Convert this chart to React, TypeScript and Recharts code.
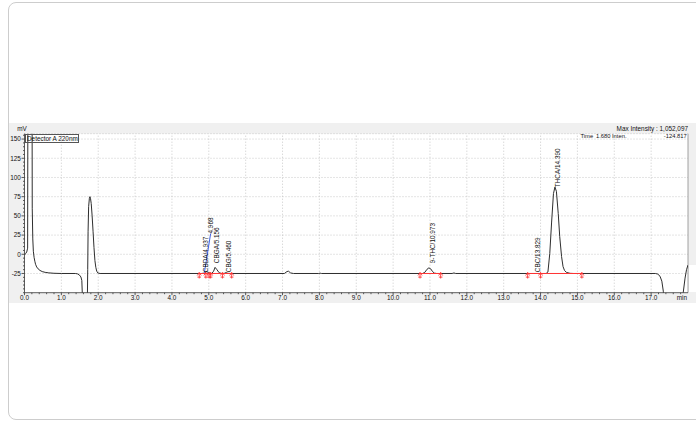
import {
  ComposedChart,
  Line,
  XAxis,
  YAxis,
  CartesianGrid,
  ReferenceLine,
  ReferenceDot,
} from 'recharts'

// chromatogram trace, detector A 220nm (time in min, signal in mV)
const traceTime = [
  0.0, 0.03, 0.06, 0.085, 0.12, 0.18, 0.21, 0.225, 0.24, 0.26, 0.28, 0.3, 0.33, 0.37, 0.42, 0.48,
  0.56, 0.66, 0.8, 1.0, 1.38, 1.44, 1.49, 1.53, 1.555, 1.575, 1.6, 1.68, 1.7, 1.715, 1.725, 1.74,
  1.76, 1.775, 1.79, 1.81, 1.835, 1.86, 1.885, 1.91, 1.935, 1.96, 1.99, 2.05, 4.8, 4.88, 4.94, 5.0,
  5.08, 5.13, 5.17, 5.22, 5.28, 5.35, 5.42, 5.46, 5.52, 5.6, 7.05, 7.12, 7.16, 7.22, 7.3, 7.98,
  8.02, 8.06, 10.8, 10.86, 10.92, 10.97, 11.02, 11.07, 11.12, 11.18, 11.6, 11.65, 11.7, 14.15,
  14.2, 14.25, 14.3, 14.35, 14.39, 14.43, 14.48, 14.52, 14.57, 14.61, 14.65, 14.7, 14.8, 14.9,
  17.12, 17.18, 17.24, 17.29, 17.33, 17.38, 17.5, 17.75, 17.83, 17.87, 17.92, 17.96, 18.0,
]
const traceMv = [
  -1, 1, 3, 8, 1052, 1052, 60, 20, 4, -4, -9, -13, -16.5, -19, -21, -22.5,
  -23.5, -24.2, -24.7, -25, -25, -25.5, -27, -29.5, -34, -60, -110, -124.8, -80, -20, 30, 62,
  73, 75, 73, 66, 50, 30, 9, -8, -17, -22, -24.3, -25, -25, -24.5, -22.5, -24,
  -25, -22, -17, -20, -24, -25, -24.8, -23.8, -24.8, -25, -25, -22.5, -22, -24.3, -25, -25,
  -24.6, -25, -25, -23.5, -19.5, -17.7, -19, -22.5, -24.5, -25, -25, -24.3, -25, -25,
  -23, 1, 42, 79, 87.5, 82, 53, 23, -3, -16, -21, -23.5, -24.8, -25,
  -25, -25.8, -28.5, -35, -48, -90, -124, -124, -90, -50, -31, -20, -14,
]

const peakNames = ['CBDA/4.937', '4.968', 'CBGA/5.156', 'CBG/5.460', '9-THC/10.973', 'CBC/13.829', 'THCA/14.390']
const peakLabelTime = [4.92, 5.05, 5.21, 5.53, 11.08, 13.93, 14.47]
const peakLabelMv = [-23.3, 27.1, -11.6, -23.3, -11.6, -23.3, 87.4]

// integration start / end marks and baselines
const markTime = [4.74, 4.92, 5.01, 5.05, 5.37, 5.62, 10.73, 11.29, 13.65, 14.0, 15.12]
const baseStart = [4.74, 10.73, 13.65]
const baseEnd = [5.62, 11.29, 15.12]
const baseLevel = -25

const xMajor = [0, 1, 2, 3, 4, 5, 6, 7, 8, 9, 10, 11, 12, 13, 14, 15, 16, 17]
const yMajor = [-25, 0, 25, 50, 75, 100, 125, 150]
const xTicks = [...Array.from({ length: 90 }, (_, i) => (i * 2) / 10), 18]
const yTicks = Array.from({ length: 42 }, (_, i) => -50 + i * 5)

const traceRows = traceTime.map((t, i) => ({ t, mv: traceMv[i] }))

const FONT = '"Liberation Sans", Arial, sans-serif'
const FS = 6.4

const XTick = ({ x, y, payload }: any) => {
  const v = payload.value
  if (v === 18) {
    return (
      <text x={x - 1} y={y + 5} dy="0.35em" textAnchor="end" fontSize={FS} fontFamily={FONT} fill="#111">
        min
      </text>
    )
  }
  const major = Math.abs(v - Math.round(v)) < 1e-6
  return (
    <g>
      <line x1={x} x2={x} y1={y} y2={y + (major ? 2.5 : 1.5)} stroke="#333" strokeWidth={0.8} />
      {major && (
        <text x={x} y={y + 5} dy="0.35em" textAnchor="middle" fontSize={FS} fontFamily={FONT} fill="#111">
          {v.toFixed(1)}
        </text>
      )}
    </g>
  )
}

const YTick = ({ x, y, payload }: any) => {
  const v = payload.value
  const major = yMajor.includes(v)
  return (
    <g>
      <line x1={x} x2={x - (major ? 3 : 1.5)} y1={y} y2={y} stroke="#333" strokeWidth={0.8} />
      {major && (
        <text x={x - 3.6} y={y} dy="0.35em" textAnchor="end" fontSize={FS} fontFamily={FONT} fill="#111">
          {v}
        </text>
      )}
    </g>
  )
}

const Mark = ({ cx, cy }: any) => (
  <g stroke="#ff3434" strokeWidth={0.9} fill="none">
    <line x1={cx} y1={cy - 1} x2={cx} y2={cy + 5} />
    <polyline points={`${cx - 2},${cy + 2} ${cx},${cy - 1} ${cx + 2},${cy + 2}`} />
    <line x1={cx - 1.8} y1={cy + 3.6} x2={cx + 1.8} y2={cy + 3.6} />
  </g>
)

const peakLabel = (name: string) => ({ cx, cy }: any) => (
  <text
    transform={`translate(${cx},${cy}) rotate(-90)`}
    dy="0.35em"
    fontSize={FS}
    fontFamily={FONT}
    fill="#111"
  >
    {name}
  </text>
)

const small = { position: 'absolute' as const, fontSize: FS, lineHeight: '8px', fontFamily: FONT, color: '#111', whiteSpace: 'nowrap' as const }
const tiny = { ...small, fontSize: 5.8 }

export default function App() {
  return (
    <div style={{ position: 'absolute', left: 0, top: 0, width: 696, height: 421, overflow: 'hidden', background: '#fff' }}>
      <div
        style={{
          position: 'absolute',
          left: 8,
          top: 2,
          width: 720,
          height: 418,
          border: '1px solid #cdcdcd',
          borderRadius: 8,
          boxSizing: 'border-box',
        }}
      />
      <div style={{ position: 'absolute', left: 9, top: 123, width: 687, height: 180, background: '#f0f0f0' }}>
        <ComposedChart
          width={687}
          height={180}
          data={traceRows}
          margin={{ top: 10.7, right: 8, bottom: 0, left: 0 }}
        >
          <CartesianGrid fill="#fff" horizontal={false} vertical={false} />
          <XAxis
            dataKey="t"
            type="number"
            domain={[0, 18]}
            ticks={xTicks}
            interval={0}
            height={10.3}
            tickSize={0}
            tickMargin={0}
            tickLine={false}
            tick={(p: any) => <XTick {...p} />}
            axisLine={{ stroke: '#333', strokeWidth: 0.8 }}
            allowDataOverflow
          />
          <YAxis
            type="number"
            domain={[-50, 157]}
            ticks={yTicks}
            interval={0}
            width={15.5}
            tickSize={0}
            tickMargin={0}
            tickLine={false}
            tick={(p: any) => <YTick {...p} />}
            axisLine={{ stroke: '#333', strokeWidth: 0.8 }}
            allowDataOverflow
          />
          {xMajor.slice(1).map((v) => (
            <ReferenceLine key={'gx' + v} x={v} stroke="#bcbcbc" strokeDasharray="1 2" strokeWidth={0.8} />
          ))}
          {yMajor.map((v) => (
            <ReferenceLine key={'gy' + v} y={v} stroke="#bcbcbc" strokeDasharray="1 2" strokeWidth={0.8} />
          ))}
          <ReferenceLine y={157} stroke="#bcbcbc" strokeDasharray="1 2" strokeWidth={0.8} />
          <ReferenceLine x={18} stroke="#8a8a8a" strokeWidth={0.8} />
          <Line
            dataKey="mv"
            type="linear"
            stroke="#2e2e2e"
            strokeWidth={1}
            dot={false}
            isAnimationActive={false}
          />
          {baseStart.map((s, i) => (
            <Line
              key={'b' + i}
              data={[
                { t: s, mv: baseLevel },
                { t: baseEnd[i], mv: baseLevel },
              ]}
              dataKey="mv"
              type="linear"
              stroke="#ff3434"
              strokeWidth={1}
              dot={false}
              isAnimationActive={false}
            />
          ))}
          <Line
            data={[
              { t: 4.88, mv: -24 },
              { t: 5.05, mv: 27.1 },
            ]}
            dataKey="mv"
            type="linear"
            stroke="#3f5fe0"
            strokeWidth={1}
            dot={false}
            isAnimationActive={false}
          />
          {markTime.map((t, i) => (
            <ReferenceDot key={'m' + i} x={t} y={baseLevel} shape={(p: any) => <Mark {...p} />} />
          ))}
          {peakNames.map((name, i) => (
            <ReferenceDot
              key={'p' + i}
              x={peakLabelTime[i]}
              y={peakLabelMv[i]}
              shape={peakLabel(name)}
            />
          ))}
        </ComposedChart>
      </div>
      <div style={{ ...small, left: 14, top: 125, width: 16, textAlign: 'center' }}>mV</div>
      <div
        style={{
          ...small,
          left: 24.5,
          top: 134,
          width: 54,
          height: 8.5,
          lineHeight: '7px',
          border: '1px solid #555',
          boxSizing: 'border-box',
          paddingLeft: 1.5,
        }}
      >
        Detector A 220nm
      </div>
      <div style={{ ...small, left: 590, top: 125, width: 98, textAlign: 'right' }}>Max Intensity : 1,052,097</div>
      <div style={{ ...tiny, left: 580.5, top: 131.5 }}>Time</div>
      <div style={{ ...tiny, left: 596, top: 131.5 }}>1.680</div>
      <div style={{ ...tiny, left: 612, top: 131.5 }}>Inten.</div>
      <div style={{ ...tiny, left: 640, top: 131.5, width: 46.7, textAlign: 'right' }}>-124.817</div>
      <div style={{ position: 'absolute', left: 689, top: 265, width: 7, height: 27, background: '#fff' }} />
    </div>
  )
}
